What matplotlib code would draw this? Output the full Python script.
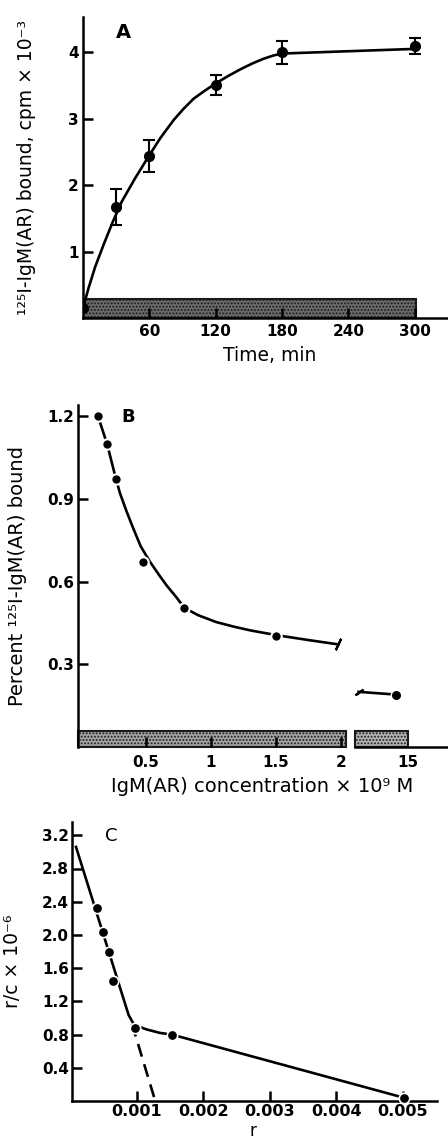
import matplotlib
matplotlib.use('Agg')
import matplotlib.pyplot as plt
from matplotlib.patches import Rectangle

plt.rcParams['font.family'] = ['DejaVu Sans']
plt.rcParams['hatch.color'] = '#222222'
plt.rcParams['hatch.linewidth'] = 0.9

# panel A - binding vs time
time_min = [0, 30, 60, 120, 180, 300]
bound_cpm = [0.15, 1.67, 2.44, 3.5, 4.0, 4.1]
bound_err = [0.0, 0.27, 0.24, 0.15, 0.17, 0.12]
time_fit = [0, 5, 11, 19, 27, 35, 47, 60, 70, 82, 91, 100, 110, 120, 131, 142, 153, 163, 172, 180, 300]
bound_fit = [0.15, 0.45, 0.77, 1.12, 1.45, 1.75, 2.1, 2.45, 2.71, 2.98, 3.15, 3.3, 3.42, 3.53,
             3.64, 3.74, 3.83, 3.9, 3.95, 3.98, 4.05]
time_ticks = [60, 120, 180, 240, 300]

# panel B - percent bound vs concentration
conc = [0.13, 0.2, 0.27, 0.48, 0.79, 1.5]
percent = [1.2, 1.1, 0.97, 0.67, 0.505, 0.404]
conc_fit = [0.13, 0.2, 0.27, 0.3, 0.35, 0.4, 0.46, 0.53, 0.6, 0.66, 0.73, 0.795, 0.9, 1.04,
            1.17, 1.3, 1.51, 1.76, 1.98]
percent_fit = [1.2, 1.1, 0.97, 0.92, 0.855, 0.795, 0.727, 0.672, 0.624, 0.585, 0.545, 0.505,
               0.478, 0.453, 0.437, 0.423, 0.405, 0.387, 0.372]
conc_high = [14.6]
percent_high = [0.19]
conc_high_fit = [13.35, 14.6]
percent_high_fit = [0.2, 0.19]
conc_ticks = [0.5, 1, 1.5, 2]
conc_ticks_high = [15]

# panel C - Scatchard plot
r_vals = [0.0004, 0.00049, 0.00059, 0.00064, 0.00097, 0.00153, 0.00501]
rc_vals = [2.32, 2.03, 1.79, 1.44, 0.875, 0.80, 0.04]
r_fit = [0.00009, 0.00088, 0.00095, 0.001, 0.00115, 0.00135, 0.00153, 0.00501]
rc_fit = [3.06, 1.035, 0.935, 0.905, 0.862, 0.82, 0.80, 0.04]
r_dash = [0.00093, 0.00128]
rc_dash = [0.93, 0.0]
r_ticks = [0.001, 0.002, 0.003, 0.004, 0.005]
rc_ticks = [0.4, 0.8, 1.2, 1.6, 2.0, 2.4, 2.8, 3.2]

W, H = 448, 1138


def box(l, t, r, b):
    # pixel box -> figure fraction
    return [l / W, 1 - b / H, (r - l) / W, (b - t) / H]


def style_axes(ax, size=11):
    ax.spines['top'].set_visible(False)
    ax.spines['right'].set_visible(False)
    ax.spines['left'].set_linewidth(1.8)
    ax.spines['bottom'].set_linewidth(1.8)
    ax.tick_params(direction='in', length=7, width=1.8, labelsize=size, pad=3)
    for lab in ax.get_xticklabels() + ax.get_yticklabels():
        lab.set_fontweight('bold')


fig = plt.figure(figsize=(W / 100, H / 100), dpi=100)

# ---- A ----
axA = fig.add_axes(box(83, 17, 448, 318))
axA.set_xlim(0, 330)
axA.set_ylim(0, 4.53)
axA.add_patch(Rectangle((0, 0), 301, 0.28, facecolor='#6a6a6a', edgecolor='#1a1a1a',
                        linewidth=1.5, hatch='.....', zorder=1))
axA.plot(time_fit, bound_fit, color='black', lw=1.9, zorder=3)
axA.errorbar(time_min, bound_cpm, yerr=bound_err, fmt='o', color='black', ms=7,
             capsize=4, elinewidth=1.5, capthick=1.5, zorder=4)
axA.set_xticks(time_ticks)
axA.set_yticks([1, 2, 3, 4])
style_axes(axA)
axA.tick_params(axis='x', pad=4)
axA.set_xlabel('Time, min', fontsize=13.5)
axA.xaxis.set_label_coords(0.512, -0.093)
axA.set_ylabel('¹²⁵I-IgM(AR) bound, cpm × 10⁻³', fontsize=13.5)
axA.yaxis.set_label_coords(-0.13, 0.5)
axA.text(0.09, 0.95, 'A', transform=axA.transAxes, fontsize=14, fontweight='bold', va='center')

# ---- B (broken x axis) ----
axB = fig.add_axes(box(78, 405, 347, 747))
axB.set_xlim(-0.023, 2.046)
axB.set_ylim(0, 1.24)
axB.add_patch(Rectangle((-0.023, 0), 2.06, 0.058, facecolor='#a4a4a4', edgecolor='#1a1a1a',
                        linewidth=1.5, hatch='.....', zorder=1, clip_on=False))
axB.plot(conc_fit, percent_fit, color='black', lw=1.9, zorder=3)
axB.plot(conc, percent, 'o', color='black', ms=7.5, mec='white', mew=1.5, zorder=4)
axB.plot(conc_fit[-1:], percent_fit[-1:], marker=(2, 2, -25), ms=9, mew=1.6, color='black',
         ls='none', zorder=4)
axB.set_xticks(conc_ticks)
axB.set_xticklabels(['0.5', '1', '1.5', '2'])
axB.set_yticks([0.3, 0.6, 0.9, 1.2])
style_axes(axB)
axB.tick_params(axis='x', pad=6)
axB.spines['bottom'].set_visible(False)
axB.set_ylabel('Percent ¹²⁵I-IgM(AR) bound', fontsize=14)
axB.yaxis.set_label_coords(-0.19, 0.5)
axB.text(0.16, 0.965, 'B', transform=axB.transAxes, fontsize=13, fontweight='bold', va='center')

axB2 = fig.add_axes(box(355, 405, 448, 747))
axB2.set_xlim(13.23, 16.33)
axB2.set_ylim(0, 1.24)
axB2.patch.set_visible(False)
axB2.add_patch(Rectangle((13.23, 0), 1.75, 0.058, facecolor='#b2b2b2', edgecolor='#1a1a1a',
                         linewidth=1.5, hatch='.....', zorder=1, clip_on=False))
axB2.plot(conc_high_fit, percent_high_fit, color='black', lw=1.9, zorder=3)
axB2.plot(conc_high, percent_high, 'o', color='black', ms=7.5, mec='white', mew=1.0, zorder=4)
axB2.plot(conc_high_fit[:1], percent_high_fit[:1], marker=(2, 2, -55), ms=7, mew=1.6,
          color='black', ls='none', zorder=4)
axB2.set_xticks(conc_ticks_high)
axB2.set_yticks([])
style_axes(axB2)
axB2.spines['left'].set_visible(False)
axB2.tick_params(axis='x', length=0, pad=6)
fig.text(262 / W, 1 - 787 / H, 'IgM(AR) concentration × 10⁹ M', fontsize=14,
         ha='center', va='center')

# ---- C ----
axC = fig.add_axes(box(72, 822, 437, 1101))
axC.set_xlim(0.00003, 0.00551)
axC.set_ylim(0, 3.36)
axC.plot(r_fit, rc_fit, color='black', lw=1.9, zorder=3)
axC.plot(r_dash, rc_dash, color='black', lw=1.9, ls=(0, (5, 3)), zorder=3)
axC.plot(r_vals, rc_vals, 'o', color='black', ms=7.5, mec='white', mew=1.2, zorder=4,
         clip_on=False)
axC.set_xticks(r_ticks)
axC.set_xticklabels(['0.001', '0.002', '0.003', '0.004', '0.005'])
axC.set_yticks(rc_ticks)
axC.set_yticklabels(['0.4', '0.8', '1.2', '1.6', '2.0', '2.4', '2.8', '3.2'])
style_axes(axC)
axC.tick_params(axis='x', pad=2, labelsize=11.5)
axC.tick_params(axis='y', pad=2)
axC.set_xlabel('r', fontsize=12)
axC.xaxis.set_label_coords(0.496, -0.074)
axC.set_ylabel('r/c × 10⁻⁶', fontsize=13.5)
axC.yaxis.set_label_coords(-0.137, 0.5)
axC.text(0.09, 0.95, 'C', transform=axC.transAxes, fontsize=13, va='center')

fig.savefig('out.png', dpi=100)
